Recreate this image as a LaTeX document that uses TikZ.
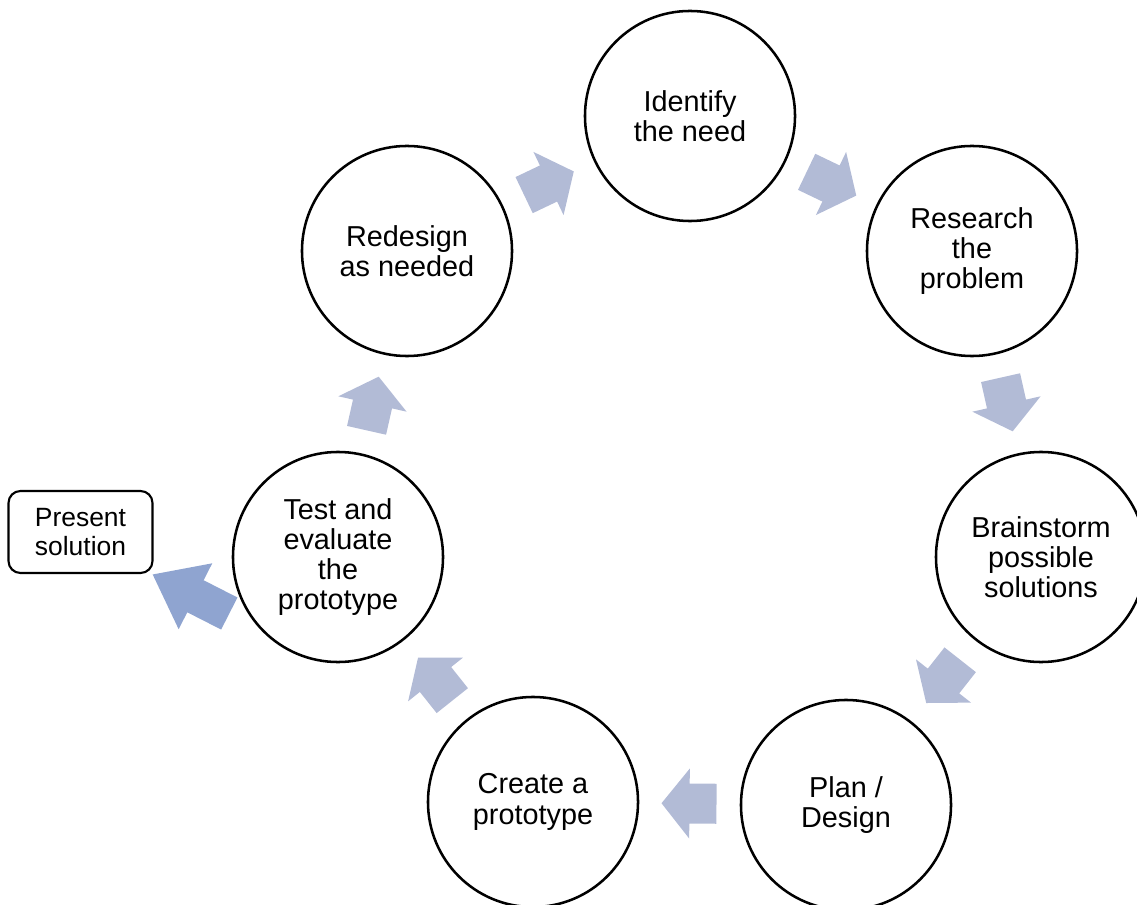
\documentclass[tikz,border=0pt]{standalone}
\usepackage{fontspec}
\setmainfont{Liberation Sans}
\usepackage{tikz}
\usetikzlibrary{calc}
\definecolor{arrowblue25}{RGB}{178, 187, 214}
\definecolor{arrowblue50}{RGB}{143, 164, 208}
\tikzset{
  cyclearrow/.pic={\fill[arrowblue25] (-27,-20) -- (0,-20) -- (0,-35) -- (28,0) -- (0,35) -- (0,20) -- (-27,20) -- cycle;},
  exitarrow/.pic={\fill[arrowblue50] (-43,-18) -- (-5,-18) -- (-5,-37) -- (43,0) -- (-5,37) -- (-5,18) -- (-43,18) -- cycle;}
}
\newcommand{\steparrow}[2]{%
  \path let \p1=($(#2)-(#1)$), \n1={atan2(\y1,\x1)} in ($(#1)!0.5!(#2)$) pic[rotate=\n1] {cyclearrow};}

\begin{document}
\begin{tikzpicture}[
    x=0.025cm, y=-0.025cm,
    block_step/.style={
      circle,
      draw,
      line width=1.8pt,
      inner sep=0pt,
      minimum size=5.25cm,
      align=center,
      font=\fontsize{20.5}{21.5}\selectfont
    },
    block_out/.style={
      rectangle,
      rounded corners=0.3cm,
      draw,
      line width=1.5pt,
      align=center,
      minimum width=3.6cm,
      minimum height=2.05cm,
      font=\fontsize{18.8}{21}\selectfont
    }
  ]
  \useasboundingbox (0,0) rectangle (1137,905);
  \clip (0,0) rectangle (1137,905);

  % Nodes
  \node [block_step] (identify) at (690,116) {Identify\\the need};
  \node [block_step] (research) at (972,251) {Research\\the\\problem};
  \node [block_step] (brainstorm) at (1041,557) {Brainstorm\\possible\\solutions};
  \node [block_step] (plan) at (846,805) {Plan /\\Design};
  \node [block_step] (create) at (533,802) {Create a\\prototype};
  \node [block_step] (test) at (338,557) {Test and\\evaluate\\the\\prototype};
  \node [block_step] (redesign) at (407,251) {Redesign\\as needed};

  \node [block_out] (present) at (80.5,532) {Present\\solution};
  \coordinate (exit) at (191,594);

  % Arrows
  \steparrow{identify}{research}
  \steparrow{research}{brainstorm}
  \steparrow{brainstorm}{plan}
  \steparrow{plan}{create}
  \steparrow{create}{test}
  \steparrow{test}{redesign}
  \steparrow{redesign}{identify}

  \path (exit) pic[rotate=153] {exitarrow};

\end{tikzpicture}
\end{document}
